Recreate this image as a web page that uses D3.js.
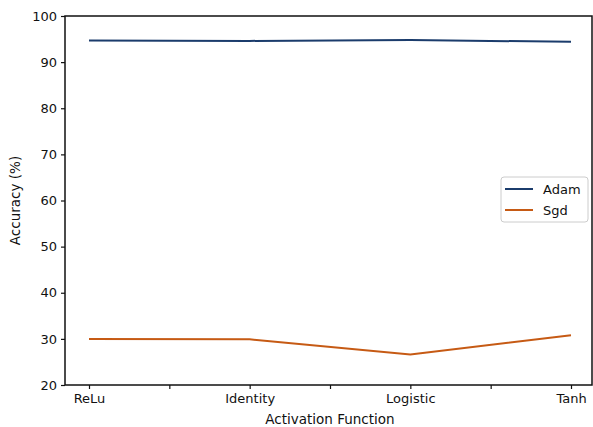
<!DOCTYPE html>
<html>
<head>
<meta charset="utf-8">
<script src="https://cdn.jsdelivr.net/npm/d3@7"></script>
<style>
  body { margin: 0; background: #fff; }
  text { font-family: "DejaVu Sans", sans-serif; fill: #111; }
</style>
</head>
<body>
<div id="chart"></div>
<script>
// data
var categories = ["ReLu", "Identity", "Logistic", "Tanh"];
var adam = [94.7, 94.6, 94.8, 94.4];
var sgd = [30.0, 29.9, 26.6, 30.8];
var yTicks = [20, 30, 40, 50, 60, 70, 80, 90, 100];
var xTicks = [0, 0.5, 1, 1.5, 2, 2.5, 3];

var width = 593, height = 427;
var frame = { left: 65, right: 592, top: 16, bottom: 385 };

var svg = d3.select("#chart")
  .append("svg")
  .attr("width", width)
  .attr("height", height);

var x = d3.scaleLinear().domain([0, 3]).range([89, 571]);
var y = d3.scaleLinear().domain([20, 100]).range([frame.bottom, frame.top]);

// frame
svg.append("rect")
  .attr("x", frame.left)
  .attr("y", frame.top)
  .attr("width", frame.right - frame.left)
  .attr("height", frame.bottom - frame.top)
  .attr("fill", "none")
  .attr("stroke", "#111")
  .attr("stroke-width", 1.5);

// y axis
var yAxis = svg.append("g")
  .attr("transform", "translate(" + frame.left + ",0)")
  .call(d3.axisLeft(y).tickValues(yTicks).tickSize(4).tickPadding(4));
yAxis.select(".domain").remove();
yAxis.selectAll("line").attr("stroke", "#111").attr("stroke-width", 1.2);
yAxis.selectAll("text").style("font-size", "13px").attr("fill", "#111");

// x axis, labels only on whole steps
var xAxis = svg.append("g")
  .attr("transform", "translate(0," + frame.bottom + ")")
  .call(d3.axisBottom(x).tickValues(xTicks).tickSize(4).tickPadding(5)
    .tickFormat(function (d) { return d % 1 === 0 ? categories[d] : ""; }));
xAxis.select(".domain").remove();
xAxis.selectAll("line").attr("stroke", "#111").attr("stroke-width", 1.2);
xAxis.selectAll("text").style("font-size", "13px").attr("fill", "#111");

// axis titles
svg.append("text")
  .attr("x", 330)
  .attr("y", 424)
  .attr("text-anchor", "middle")
  .style("font-size", "13.5px")
  .text("Activation Function");

svg.append("text")
  .attr("transform", "translate(20," + ((frame.top + frame.bottom) / 2) + ") rotate(-90)")
  .attr("text-anchor", "middle")
  .style("font-size", "13.5px")
  .text("Accuracy (%)");

// lines
var series = [
  { name: "Adam", values: adam, color: "#1b3c6c" },
  { name: "Sgd", values: sgd, color: "#c65a14" }
];

var line = d3.line()
  .x(function (d, i) { return x(i); })
  .y(function (d) { return y(d); });

svg.selectAll(".series")
  .data(series)
  .enter()
  .append("path")
  .attr("class", "series")
  .attr("d", function (d) { return line(d.values); })
  .attr("fill", "none")
  .attr("stroke", function (d) { return d.color; })
  .attr("stroke-width", 2);

// legend
var legend = svg.append("g").attr("transform", "translate(501,177)");
legend.append("rect")
  .attr("width", 87)
  .attr("height", 45)
  .attr("rx", 3)
  .attr("fill", "#fff")
  .attr("stroke", "#ccc");

var item = legend.selectAll(".item")
  .data(series)
  .enter()
  .append("g")
  .attr("class", "item")
  .attr("transform", function (d, i) { return "translate(0," + (12 + i * 21) + ")"; });
item.append("line")
  .attr("x1", 4).attr("x2", 32)
  .attr("stroke", function (d) { return d.color; })
  .attr("stroke-width", 2);
item.append("text")
  .attr("x", 42)
  .attr("dy", "0.35em")
  .style("font-size", "13px")
  .text(function (d) { return d.name; });
</script>
</body>
</html>
